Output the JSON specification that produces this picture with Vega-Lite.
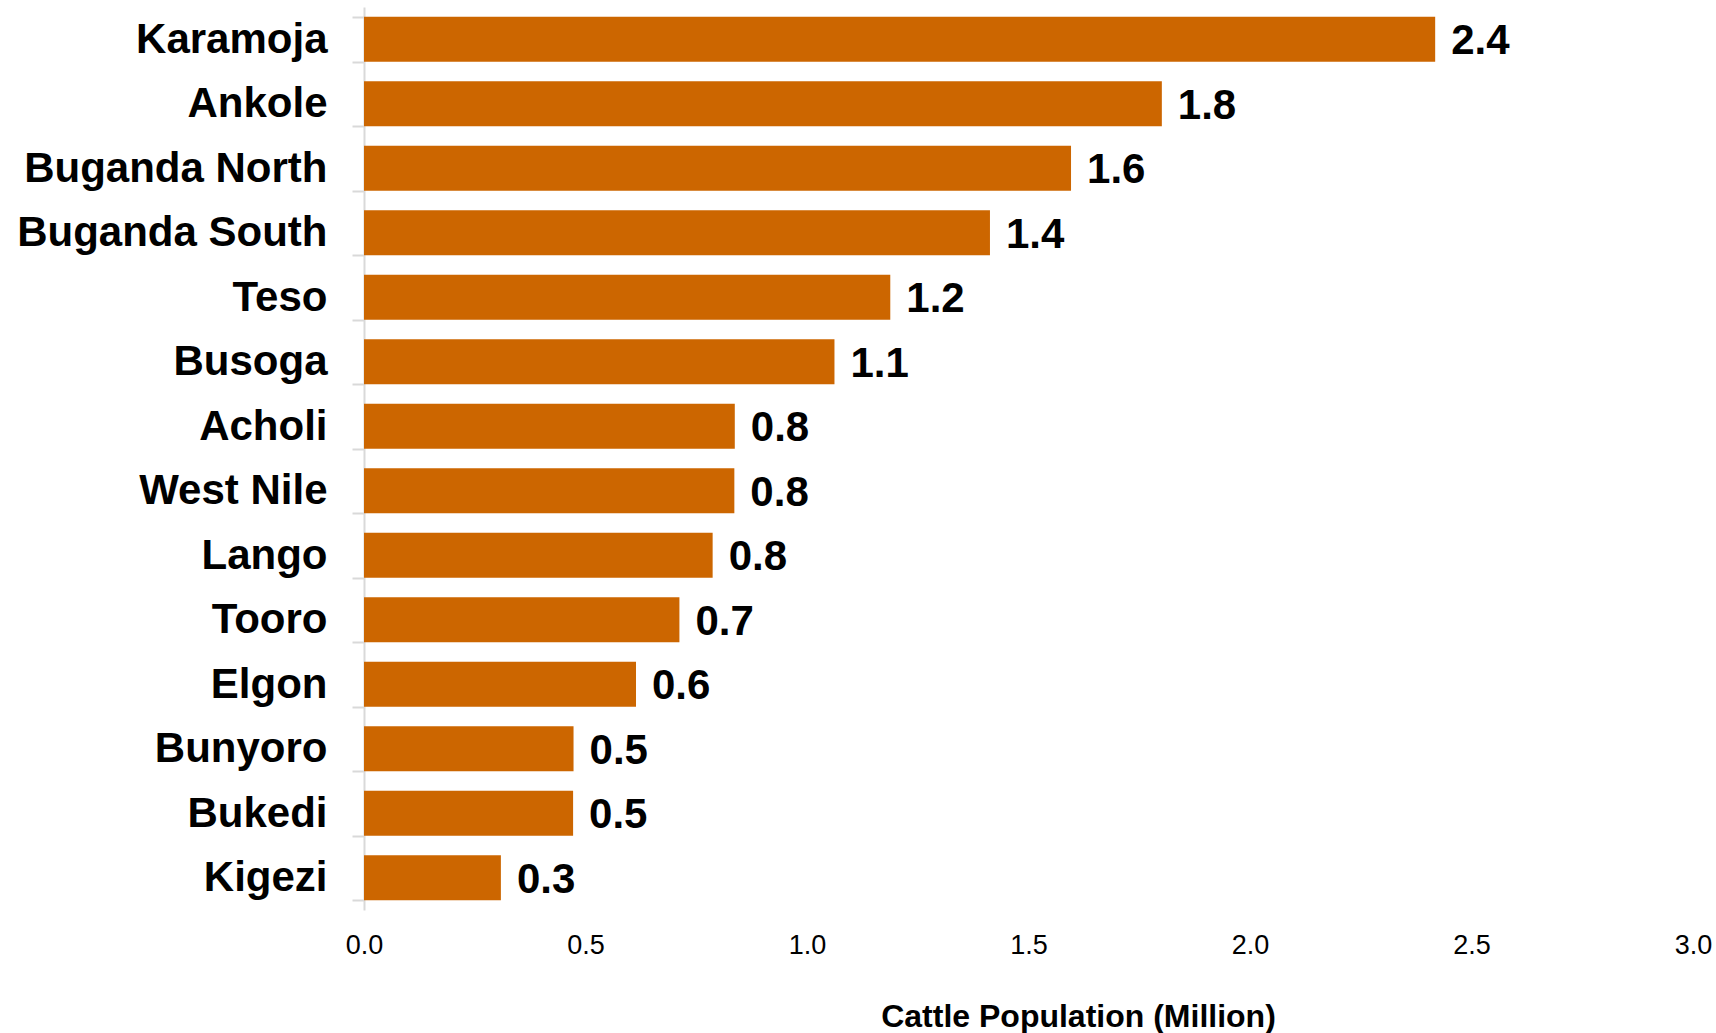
{
  "$schema": "https://vega.github.io/schema/vega-lite/v6.json",
  "width": 1329,
  "height": 903,
  "autosize": {"type": "none"},
  "padding": {"left": 364, "top": 7, "right": 23, "bottom": 123},
  "background": "white",
  "config": {"view": {"stroke": null}, "font": "Liberation Sans"},
  "data": {
    "values": [
      {"region": "Karamoja", "cattle": 2.418},
      {"region": "Ankole", "cattle": 1.801},
      {"region": "Buganda North", "cattle": 1.596},
      {"region": "Buganda South", "cattle": 1.413},
      {"region": "Teso", "cattle": 1.188},
      {"region": "Busoga", "cattle": 1.062},
      {"region": "Acholi", "cattle": 0.837},
      {"region": "West Nile", "cattle": 0.836},
      {"region": "Lango", "cattle": 0.787},
      {"region": "Tooro", "cattle": 0.712},
      {"region": "Elgon", "cattle": 0.614},
      {"region": "Bunyoro", "cattle": 0.473},
      {"region": "Bukedi", "cattle": 0.472},
      {"region": "Kigezi", "cattle": 0.309}
    ]
  },
  "encoding": {
    "y": {
      "field": "region",
      "type": "nominal",
      "sort": null,
      "scale": {"paddingInner": 0.3, "paddingOuter": 0.15},
      "axis": {
        "title": null,
        "tickBand": "extent",
        "domainColor": "#D9D9D9",
        "domainWidth": 2,
        "tickColor": "#D9D9D9",
        "tickWidth": 2,
        "tickSize": 12,
        "labelPadding": 25,
        "labelLimit": 0,
        "labelFont": "Liberation Sans",
        "labelFontSize": 42,
        "labelFontWeight": "bold",
        "labelColor": "#000000"
      }
    },
    "x": {
      "field": "cattle",
      "type": "quantitative",
      "scale": {"domain": [0, 3], "nice": false},
      "axis": {
        "values": [0, 0.5, 1, 1.5, 2, 2.5, 3],
        "format": ".1f",
        "grid": false,
        "domain": false,
        "ticks": false,
        "tickSize": 0,
        "labelPadding": 22,
        "labelFont": "Liberation Sans",
        "labelFontSize": 27,
        "labelColor": "#000000",
        "labelFlush": false,
        "title": "Cattle Population (Million)",
        "titleFont": "Liberation Sans",
        "titleFontSize": 32,
        "titleFontWeight": "bold",
        "titleColor": "#000000",
        "titleX": 714,
        "titleY": 106,
        "titleAlign": "center",
        "titleBaseline": "middle"
      }
    }
  },
  "layer": [
    {"mark": {"type": "bar", "color": "#CC6600"}},
    {
      "mark": {
        "type": "text",
        "align": "left",
        "baseline": "middle",
        "dx": 16,
        "dy": 2,
        "font": "Liberation Sans",
        "fontSize": 42,
        "fontWeight": "bold",
        "color": "#000000"
      },
      "encoding": {"text": {"field": "cattle", "type": "quantitative", "format": ".1f"}}
    }
  ]
}
